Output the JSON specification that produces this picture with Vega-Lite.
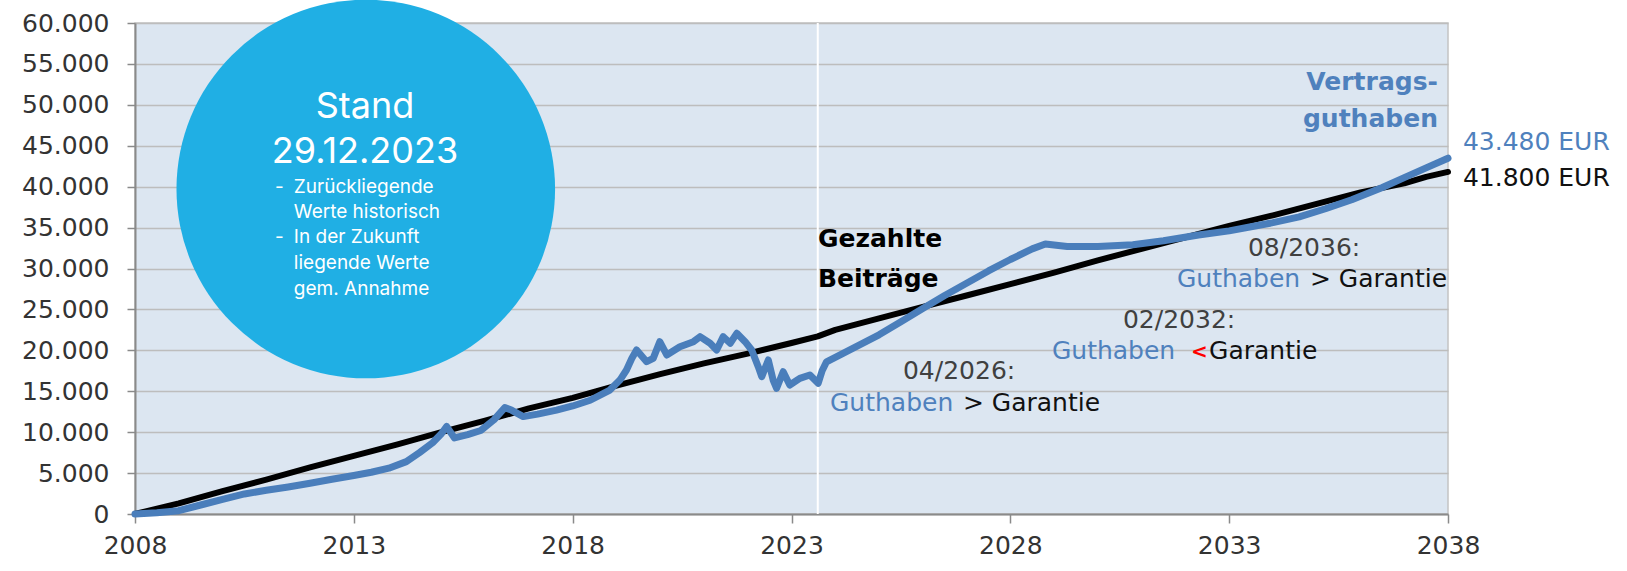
{
  "$schema": "https://vega.github.io/schema/vega-lite/v6.json",
  "width": 1313,
  "height": 491,
  "autosize": {"type": "none"},
  "padding": {"left": 135, "top": 23, "right": 179, "bottom": 57},
  "background": "#ffffff",
  "config": {
    "view": {"fill": "#dce6f1", "stroke": "#c4c4c4", "strokeWidth": 1.5},
    "axis": {"labelFont": "DejaVu Sans", "labelColor": "#333333", "title": null, "domainColor": "#8a8a8a", "domainWidth": 2, "tickColor": "#8a8a8a", "tickWidth": 1.5}
  },
  "datasets": {
    "series": [
      {"t": 2008.0, "v": 0, "s": "B"}, {"t": 2009.0, "v": 1300, "s": "B"}, {"t": 2010.0, "v": 2800, "s": "B"}, {"t": 2011.0, "v": 4200, "s": "B"}, {"t": 2012.0, "v": 5700, "s": "B"}, {"t": 2013.0, "v": 7100, "s": "B"}, {"t": 2014.0, "v": 8500, "s": "B"}, {"t": 2015.0, "v": 10000, "s": "B"}, {"t": 2016.0, "v": 11400, "s": "B"}, {"t": 2017.0, "v": 12900, "s": "B"}, {"t": 2018.0, "v": 14200, "s": "B"}, {"t": 2019.0, "v": 15700, "s": "B"}, {"t": 2020.0, "v": 17100, "s": "B"}, {"t": 2021.0, "v": 18400, "s": "B"}, {"t": 2022.0, "v": 19600, "s": "B"}, {"t": 2023.0, "v": 20900, "s": "B"}, {"t": 2023.6, "v": 21700, "s": "B"}, {"t": 2024.0, "v": 22500, "s": "B"}, {"t": 2025.0, "v": 23900, "s": "B"}, {"t": 2026.0, "v": 25300, "s": "B"}, {"t": 2027.0, "v": 26700, "s": "B"}, {"t": 2028.0, "v": 28100, "s": "B"}, {"t": 2029.0, "v": 29500, "s": "B"}, {"t": 2030.0, "v": 31000, "s": "B"}, {"t": 2031.0, "v": 32400, "s": "B"}, {"t": 2032.0, "v": 33800, "s": "B"}, {"t": 2033.0, "v": 35200, "s": "B"}, {"t": 2034.0, "v": 36500, "s": "B"}, {"t": 2035.0, "v": 37900, "s": "B"}, {"t": 2036.0, "v": 39300, "s": "B"}, {"t": 2037.0, "v": 40400, "s": "B"}, {"t": 2037.5, "v": 41200, "s": "B"}, {"t": 2038.0, "v": 41800, "s": "B"},
      {"t": 2008.0, "v": 0, "s": "G"}, {"t": 2008.5, "v": 150, "s": "G"}, {"t": 2009.0, "v": 400, "s": "G"}, {"t": 2009.5, "v": 1100, "s": "G"}, {"t": 2010.0, "v": 1800, "s": "G"}, {"t": 2010.5, "v": 2450, "s": "G"}, {"t": 2011.0, "v": 2900, "s": "G"}, {"t": 2011.5, "v": 3300, "s": "G"}, {"t": 2012.0, "v": 3750, "s": "G"}, {"t": 2012.5, "v": 4250, "s": "G"}, {"t": 2013.0, "v": 4700, "s": "G"}, {"t": 2013.4, "v": 5100, "s": "G"}, {"t": 2013.8, "v": 5600, "s": "G"}, {"t": 2014.2, "v": 6400, "s": "G"}, {"t": 2014.5, "v": 7500, "s": "G"}, {"t": 2014.8, "v": 8700, "s": "G"}, {"t": 2015.0, "v": 9800, "s": "G"}, {"t": 2015.12, "v": 10700, "s": "G"}, {"t": 2015.3, "v": 9300, "s": "G"}, {"t": 2015.6, "v": 9700, "s": "G"}, {"t": 2015.9, "v": 10200, "s": "G"}, {"t": 2016.2, "v": 11500, "s": "G"}, {"t": 2016.45, "v": 13000, "s": "G"}, {"t": 2016.6, "v": 12700, "s": "G"}, {"t": 2016.87, "v": 11900, "s": "G"}, {"t": 2017.2, "v": 12200, "s": "G"}, {"t": 2017.63, "v": 12700, "s": "G"}, {"t": 2018.0, "v": 13200, "s": "G"}, {"t": 2018.4, "v": 13900, "s": "G"}, {"t": 2018.85, "v": 15150, "s": "G"}, {"t": 2019.08, "v": 16370, "s": "G"}, {"t": 2019.23, "v": 17600, "s": "G"}, {"t": 2019.35, "v": 19000, "s": "G"}, {"t": 2019.46, "v": 20040, "s": "G"}, {"t": 2019.69, "v": 18610, "s": "G"}, {"t": 2019.84, "v": 19020, "s": "G"}, {"t": 2019.99, "v": 21060, "s": "G"}, {"t": 2020.15, "v": 19430, "s": "G"}, {"t": 2020.45, "v": 20440, "s": "G"}, {"t": 2020.76, "v": 21060, "s": "G"}, {"t": 2020.91, "v": 21670, "s": "G"}, {"t": 2021.14, "v": 20860, "s": "G"}, {"t": 2021.29, "v": 20040, "s": "G"}, {"t": 2021.44, "v": 21670, "s": "G"}, {"t": 2021.6, "v": 20860, "s": "G"}, {"t": 2021.75, "v": 22080, "s": "G"}, {"t": 2021.94, "v": 21060, "s": "G"}, {"t": 2022.09, "v": 20040, "s": "G"}, {"t": 2022.24, "v": 18000, "s": "G"}, {"t": 2022.32, "v": 16780, "s": "G"}, {"t": 2022.47, "v": 18820, "s": "G"}, {"t": 2022.58, "v": 16370, "s": "G"}, {"t": 2022.66, "v": 15360, "s": "G"}, {"t": 2022.81, "v": 17390, "s": "G"}, {"t": 2022.96, "v": 15760, "s": "G"}, {"t": 2023.19, "v": 16580, "s": "G"}, {"t": 2023.42, "v": 16990, "s": "G"}, {"t": 2023.61, "v": 15970, "s": "G"}, {"t": 2023.7, "v": 17500, "s": "G"}, {"t": 2023.8, "v": 18600, "s": "G"}, {"t": 2024.5, "v": 20500, "s": "G"}, {"t": 2025.0, "v": 21900, "s": "G"}, {"t": 2025.5, "v": 23500, "s": "G"}, {"t": 2026.0, "v": 25100, "s": "G"}, {"t": 2026.5, "v": 26700, "s": "G"}, {"t": 2027.0, "v": 28200, "s": "G"}, {"t": 2027.5, "v": 29700, "s": "G"}, {"t": 2028.0, "v": 31100, "s": "G"}, {"t": 2028.5, "v": 32400, "s": "G"}, {"t": 2028.8, "v": 33000, "s": "G"}, {"t": 2029.3, "v": 32700, "s": "G"}, {"t": 2030.0, "v": 32700, "s": "G"}, {"t": 2030.8, "v": 32900, "s": "G"}, {"t": 2031.5, "v": 33400, "s": "G"}, {"t": 2032.3, "v": 34100, "s": "G"}, {"t": 2033.0, "v": 34600, "s": "G"}, {"t": 2033.5, "v": 35100, "s": "G"}, {"t": 2034.0, "v": 35600, "s": "G"}, {"t": 2034.6, "v": 36300, "s": "G"}, {"t": 2035.2, "v": 37300, "s": "G"}, {"t": 2035.8, "v": 38400, "s": "G"}, {"t": 2036.5, "v": 39900, "s": "G"}, {"t": 2037.0, "v": 41100, "s": "G"}, {"t": 2037.5, "v": 42300, "s": "G"}, {"t": 2038.0, "v": 43480, "s": "G"}
    ],
    "stand": [{"t": 2023.6}],
    "circle": [{"x": 2013.273, "y": 39715}],
    "circleBig": [
      {"x": 2013.255, "y": 48355, "text": "Stand"},
      {"x": 2013.255, "y": 42856, "text": "29.12.2023"}
    ],
    "circleSmall": [
      {"x": 2011.63, "y": 39190, "text": "Zurückliegende"},
      {"x": 2011.63, "y": 36135, "text": "Werte historisch"},
      {"x": 2011.63, "y": 33080, "text": "In der Zukunft"},
      {"x": 2011.63, "y": 29950, "text": "liegende Werte"},
      {"x": 2011.63, "y": 26762, "text": "gem. Annahme"},
      {"x": 2011.2, "y": 39190, "text": "-"},
      {"x": 2011.2, "y": 33080, "text": "-"}
    ],
    "boldBlack": [
      {"x": 2023.604, "y": 32664, "text": "Gezahlte"},
      {"x": 2023.604, "y": 27776, "text": "Beiträge"}
    ],
    "boldBlue": [
      {"x": 2037.77, "y": 51813, "text": "Vertrags-"},
      {"x": 2037.77, "y": 47255, "text": "guthaben"}
    ],
    "endLabels": [
      {"x": 2038.34, "y": 44481, "text": "43.480 EUR", "c": "blue"},
      {"x": 2038.34, "y": 40082, "text": "41.800 EUR", "c": "black"}
    ],
    "dates": [
      {"x": 2025.546, "y": 16460, "text": "04/2026:"},
      {"x": 2030.573, "y": 22766, "text": "02/2032:"},
      {"x": 2033.429, "y": 31528, "text": "08/2036:"}
    ],
    "compare": [
      {"x": 2023.879, "y": 12587, "text": "Guthaben", "c": "blue"},
      {"x": 2026.917, "y": 12587, "text": "> Garantie", "c": "black"},
      {"x": 2028.95, "y": 18941, "text": "Guthaben", "c": "blue"},
      {"x": 2032.54, "y": 18941, "text": "Garantie", "c": "black"},
      {"x": 2031.806, "y": 27776, "text": "Guthaben", "c": "blue"},
      {"x": 2034.845, "y": 27776, "text": "> Garantie", "c": "black"}
    ],
    "lessThan": [
      {"x": 2032.32, "y": 19100, "text": "<"}
    ]
  },
  "layer": [
    {
      "data": {"name": "stand"},
      "mark": {"type": "rule", "color": "#ffffff", "strokeWidth": 2},
      "encoding": {
        "x": {"field": "t", "type": "quantitative", "scale": {"domain": [2008, 2038], "nice": false, "zero": false},
          "axis": {"values": [2008, 2013, 2018, 2023, 2028, 2033, 2038], "format": "d", "grid": false, "tickSize": 9, "labelFontSize": 25, "labelPadding": 10, "labelFlush": false}}
      }
    },
    {
      "data": {"name": "series"},
      "transform": [{"filter": "datum.s === 'B'"}],
      "mark": {"type": "line", "color": "#000000", "strokeWidth": 6, "strokeCap": "round", "strokeJoin": "round"},
      "encoding": {
        "x": {"field": "t", "type": "quantitative"},
        "y": {"field": "v", "type": "quantitative", "scale": {"domain": [0, 60000], "nice": false},
          "axis": {"values": [0, 5000, 10000, 15000, 20000, 25000, 30000, 35000, 40000, 45000, 50000, 55000, 60000], "labelExpr": "replace(format(datum.value, ','), ',', '.')", "grid": true, "gridColor": "#bdbdbd", "gridWidth": 1.5, "tickSize": 8, "labelFontSize": 25, "labelPadding": 18}}
      }
    },
    {
      "data": {"name": "series"},
      "transform": [{"filter": "datum.s === 'G'"}],
      "mark": {"type": "line", "color": "#4a7ebb", "strokeWidth": 7, "strokeCap": "round", "strokeJoin": "round"},
      "encoding": {
        "x": {"field": "t", "type": "quantitative"},
        "y": {"field": "v", "type": "quantitative"}
      }
    },
    {
      "data": {"name": "circle"},
      "mark": {"type": "point", "shape": "circle", "filled": true, "size": 143340, "color": "#20afe4", "opacity": 1, "strokeWidth": 0, "clip": false},
      "encoding": {
        "x": {"field": "x", "type": "quantitative"},
        "y": {"field": "y", "type": "quantitative"}
      }
    },
    {
      "data": {"name": "circleBig"},
      "mark": {"type": "text", "font": "Inter", "fontSize": 36, "color": "#ffffff", "align": "center", "baseline": "alphabetic"},
      "encoding": {
        "x": {"field": "x", "type": "quantitative"},
        "y": {"field": "y", "type": "quantitative"},
        "text": {"field": "text"}
      }
    },
    {
      "data": {"name": "circleSmall"},
      "mark": {"type": "text", "font": "Inter", "fontSize": 19, "color": "#ffffff", "align": "left", "baseline": "alphabetic"},
      "encoding": {
        "x": {"field": "x", "type": "quantitative"},
        "y": {"field": "y", "type": "quantitative"},
        "text": {"field": "text"}
      }
    },
    {
      "data": {"name": "boldBlack"},
      "mark": {"type": "text", "font": "DejaVu Sans", "fontWeight": "bold", "fontSize": 25, "color": "#000000", "align": "left", "baseline": "alphabetic"},
      "encoding": {
        "x": {"field": "x", "type": "quantitative"},
        "y": {"field": "y", "type": "quantitative"},
        "text": {"field": "text"}
      }
    },
    {
      "data": {"name": "boldBlue"},
      "mark": {"type": "text", "font": "DejaVu Sans", "fontWeight": "bold", "fontSize": 25, "color": "#4f81bd", "align": "right", "baseline": "alphabetic"},
      "encoding": {
        "x": {"field": "x", "type": "quantitative"},
        "y": {"field": "y", "type": "quantitative"},
        "text": {"field": "text"}
      }
    },
    {
      "data": {"name": "endLabels"},
      "mark": {"type": "text", "font": "DejaVu Sans", "fontSize": 25, "align": "left", "baseline": "alphabetic"},
      "encoding": {
        "x": {"field": "x", "type": "quantitative"},
        "y": {"field": "y", "type": "quantitative"},
        "text": {"field": "text"},
        "color": {"field": "c", "type": "nominal", "scale": {"domain": ["blue", "black", "red"], "range": ["#4f81bd", "#111111", "#ff0000"]}, "legend": null}
      }
    },
    {
      "data": {"name": "dates"},
      "mark": {"type": "text", "font": "DejaVu Sans", "fontSize": 25, "color": "#404040", "align": "left", "baseline": "alphabetic"},
      "encoding": {
        "x": {"field": "x", "type": "quantitative"},
        "y": {"field": "y", "type": "quantitative"},
        "text": {"field": "text"}
      }
    },
    {
      "data": {"name": "compare"},
      "mark": {"type": "text", "font": "DejaVu Sans", "fontSize": 25, "align": "left", "baseline": "alphabetic"},
      "encoding": {
        "x": {"field": "x", "type": "quantitative"},
        "y": {"field": "y", "type": "quantitative"},
        "text": {"field": "text"},
        "color": {"field": "c", "type": "nominal", "scale": {"domain": ["blue", "black", "red"], "range": ["#4f81bd", "#111111", "#ff0000"]}, "legend": null}
      }
    },
    {
      "data": {"name": "lessThan"},
      "mark": {"type": "text", "font": "DejaVu Sans", "fontWeight": "bold", "fontSize": 20, "color": "#ff0000", "align": "center", "baseline": "alphabetic"},
      "encoding": {
        "x": {"field": "x", "type": "quantitative"},
        "y": {"field": "y", "type": "quantitative"},
        "text": {"field": "text"}
      }
    }
  ]
}
